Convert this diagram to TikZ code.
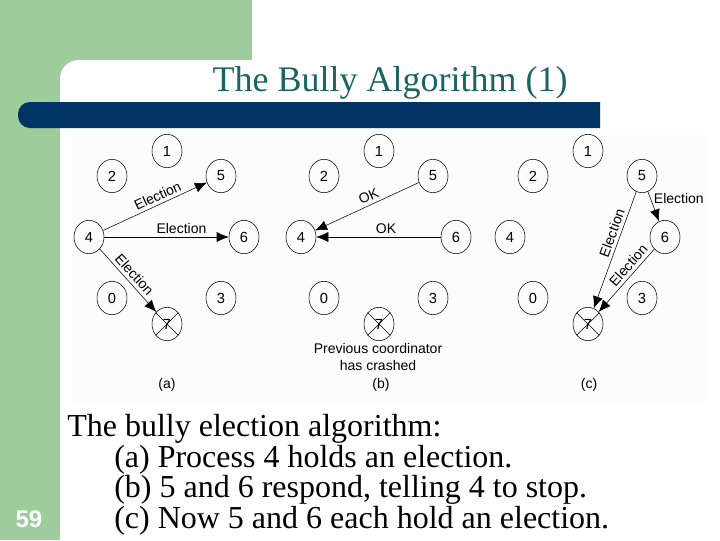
\documentclass[tikz,border=0pt]{standalone}
\usepackage{fontspec}
\setmainfont{Liberation Serif}
\setsansfont{Liberation Sans}
\usetikzlibrary{arrows.meta, positioning, calc, shapes.geometric}

\definecolor{slidegreen}{HTML}{9DCC9D}
\definecolor{barblue}{HTML}{003366}
\definecolor{titleteal}{HTML}{1A6464}
\definecolor{scanwhite}{HTML}{FCFCFC}

\tikzset{
    proc/.style={ellipse, draw, inner sep=0pt, minimum width=22.5pt, minimum height=25pt, font=\sffamily\fontsize{11}{12}\selectfont},
    msg/.style={-{Latex[length=9pt,width=7.5pt]}},
    tag/.style={font=\sffamily\fontsize{10.5}{12}\selectfont, inner sep=2.5pt},
    bodytext/.style={anchor=base west, inner sep=0pt, font=\fontsize{24}{28}\selectfont},
}

\begin{document}
\begin{tikzpicture}[x=0.75pt, y=-0.75pt]
    \useasboundingbox (0,0) rectangle (720,540);

    % slide background
    \fill[slidegreen] (0,0) rectangle (252,540);
    \fill[white, rounded corners=14pt] (60,60) rectangle (300,600);
    \fill[scanwhite] (72,135) rectangle (705,403);
    \fill[barblue] (600,102) -- (600,128) [rounded corners=9pt] -- (18,128) -- (18,102) [sharp corners] -- cycle;

    \node[anchor=base, inner sep=0pt, text=titleteal, font=\fontsize{27}{32}\selectfont] (title) at (390,91) {The Bully Algorithm (1)};

    % the same eight processes, three times
    \foreach \p/\dx in {a/0, b/212, c/421} {
        \foreach \n/\x/\y in {1/167/151, 2/112/176, 5/221/176, 4/89/237, 6/244/237, 0/112/298, 3/221/298, 7/167/324} {
            \node[proc] (\p\n) at ({\x+\dx},\y) {\n};
        }
        \draw (\p7.45) -- (\p7.225);
        \draw (\p7.135) -- (\p7.315);
    }

    % (a)
    \draw[msg] (a4) -- node[tag, above, sloped, pos=.56] {Election} (a5);
    \draw[msg] (a4) -- node[tag, above, pos=.62] {Election} (a6);
    \draw[msg] (a4) -- node[tag, above, sloped] {Election} (a7);

    % (b)
    \draw[msg] (b5) -- node[tag, above, sloped, pos=.45] {OK} (b4);
    \draw[msg] (b6) -- node[tag, above, pos=.44] {OK} (b4);

    % (c)
    \draw[msg] (c5) -- node[tag, right, pos=.22] {Election} (c6);
    \draw[msg] (c5) -- node[tag, above, sloped, pos=.38] {Election} (c7);
    \draw[msg] (c6) -- node[tag, above, sloped, pos=.35] {Election} (c7);

    \node[tag, align=center, font=\sffamily\fontsize{10.5}{12.8}\selectfont] (crashed) at (378,357) {Previous coordinator\\has crashed};
    \node[tag] (capa) at (167,385) {(a)};
    \node[tag] (capb) at (381,385) {(b)};
    \node[tag] (capc) at (589,385) {(c)};

    % caption below the figure
    \node[bodytext] (line1) at (67,436) {The bully election algorithm:};
    \node[bodytext] (line2) at (114,467) {(a) Process 4 holds an election.};
    \node[bodytext] (line3) at (114,497) {(b) 5 and 6 respond, telling 4 to stop.};
    \node[bodytext] (line4) at (114,528) {(c) Now 5 and 6 each hold an election.};

    \node[anchor=base, inner sep=0pt, text=white, font=\sffamily\bfseries\fontsize{18}{20}\selectfont] (page) at (29,527) {59};
\end{tikzpicture}
\end{document}
